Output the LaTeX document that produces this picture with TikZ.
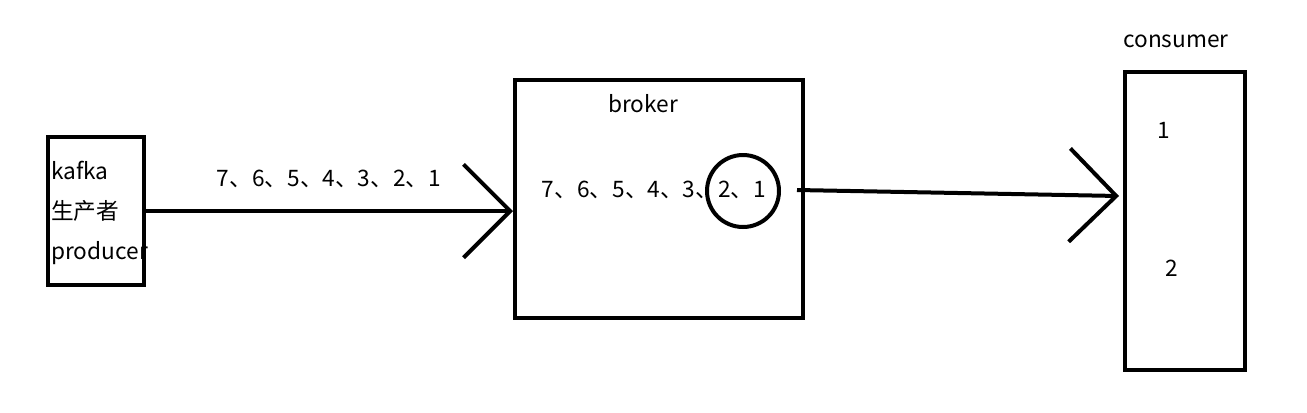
\documentclass[tikz,border=0pt]{standalone}
\usepackage{fontspec}
\setmainfont{Noto Sans CJK SC}
\usetikzlibrary{arrows.meta, positioning}

\begin{document}
\begin{tikzpicture}[
  x=0.75pt, y=-0.75pt,
  box/.style={rectangle, draw, line width=3pt, inner sep=0pt},
  txt/.style={font=\fontsize{17}{30}\selectfont, inner sep=0pt},
  arr/.style={line width=3pt, -{Straight Barb[length=35pt, width=70pt]}}
]
  \useasboundingbox (0,0) rectangle (1307,412);
  % boxes
  \node[box, minimum width=72pt, minimum height=111pt] (producer) at (96,211) {};
  \node[box, minimum width=216pt, minimum height=178.5pt] (broker) at (659,199) {};
  \node[box, minimum width=90pt, minimum height=223.5pt] (consumer) at (1185,221) {};
  % texts
  \node[txt, align=left, anchor=west] (prodtext) at (51,213) {kafka\\生产者\\producer};
  \node[txt] (brokertext) at (643,104) {broker};
  \node[txt] (sendseq) at (329,179) {7、6、5、4、3、2、1};
  \node[txt] (brokerseq) at (654,190) {7、6、5、4、3、2、1};
  \node[txt] (constext) at (1176,41) {consumer};
  \node[txt] (msgone) at (1164,130) {1};
  \node[txt] (msgtwo) at (1172,268) {2};
  \node[circle, draw, line width=3pt, minimum size=54pt, inner sep=0pt] (queue) at (743,191) {};
  % connectors
  \coordinate (qout) at (797,190);
  \coordinate (cin) at (1119,196);
  \draw[arr] (producer.east) -- (producer.east -| broker.west);
  \draw[arr] (qout) -- (cin);
\end{tikzpicture}
\end{document}
